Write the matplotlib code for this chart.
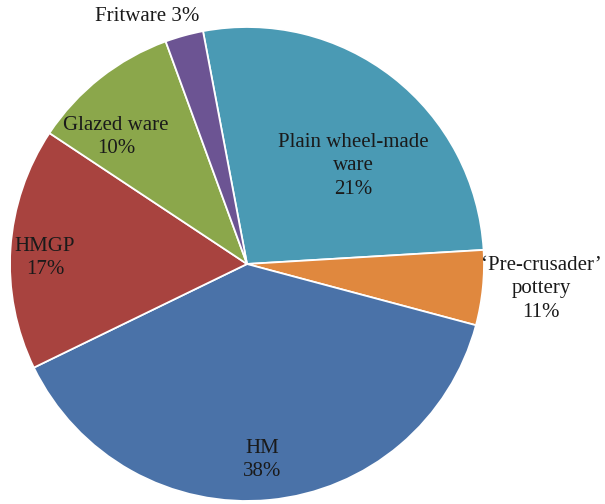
import matplotlib
matplotlib.use("Agg")
import matplotlib.pyplot as plt

# Data (slice sizes; label text as printed)
categories = ["Plain wheel-made\nware", "\u2018Pre-crusader\u2019\npottery", "HM", "HMGP", "Glazed ware", "Fritware"]
values = [27.0, 5.1, 38.6, 16.5, 10.1, 2.6]
pct_labels = ["21%", "11%", "38%", "17%", "10%", "3%"]
colors = ["#4A9AB4", "#E0883E", "#4A72A8", "#A8433F", "#8BA74B", "#6C5493"]

W, H = 605, 504
cx, cy, R = 247, 264, 237

fig = plt.figure(figsize=(W / 100, H / 100), dpi=100)
ax = fig.add_axes([0, 0, 1, 1])
ax.pie(values, colors=colors, startangle=100.7, counterclock=False,
       radius=1, center=(0, 0),
       wedgeprops=dict(edgecolor="white", linewidth=1.3))
ax.set_xlim(-cx / R, (W - cx) / R)
ax.set_ylim(-(H - cy) / R, cy / R)
ax.set_aspect("equal")
ax.axis("off")

# label centres in pixel space
label_px = [(353, 166), (541, 289), (262, 460), (45, 258), (116, 137), (147, 17)]
for i, (px, py) in enumerate(label_px):
    if categories[i] == "Fritware":
        txt = categories[i] + " " + pct_labels[i]
    else:
        txt = categories[i] + "\n" + pct_labels[i]
    ax.text((px - cx) / R, (cy - py) / R, txt, ha="center", va="center",
            fontsize=15, family="Liberation Serif", color="#1a1a1a",
            linespacing=1.32)

fig.savefig("out.png", dpi=100)
